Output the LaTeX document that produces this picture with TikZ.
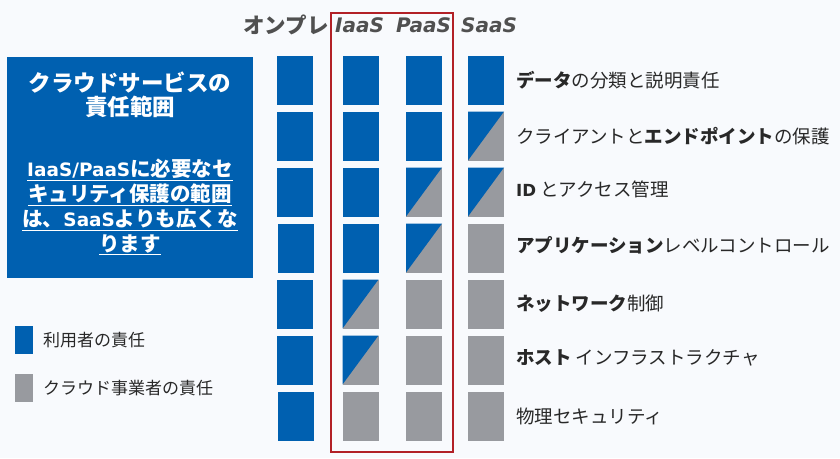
\documentclass[tikz,border=0pt]{standalone}
\usepackage{fontspec}
\setmainfont{Noto Sans CJK JP}
\newfontfamily\latinfont{DejaVu Sans}[Scale=0.9]
\newfontfamily\headfont{DejaVu Sans}[Scale=0.93]

\definecolor{userblue}{RGB}{0,96,176}
\definecolor{cloudgray}{RGB}{152,154,159}
\definecolor{framered}{RGB}{178,32,38}
\definecolor{headgray}{RGB}{80,80,80}
\definecolor{labeltext}{RGB}{40,40,40}
\definecolor{pagebg}{RGB}{248,250,253}

\tikzset{
  cell/.style={minimum width=36pt, minimum height=49pt, inner sep=0pt, outer sep=0pt},
  user/.style={cell, fill=userblue},
  cloud/.style={cell, fill=cloudgray},
  colhead/.style={inner sep=0pt, anchor=west, text=headgray, font=\fontsize{21.5}{24}\selectfont\bfseries},
  rowlabel/.style={anchor=west, inner sep=0pt, text=labeltext, font=\fontsize{18.5}{20}\selectfont},
  legendkey/.style={minimum width=18pt, minimum height=28pt, inner sep=0pt},
  legendtext/.style={anchor=west, inner sep=0pt, text=labeltext, font=\fontsize{17}{19}\selectfont},
}
% blue upper-left half of a shared cell
\newcommand{\halfblue}[1]{\fill[userblue] (#1.north west) -- (#1.north east) -- (#1.south west) -- cycle;}

\begin{document}
\begin{tikzpicture}[x=1pt,y=-1pt]
  \useasboundingbox (0,0) rectangle (840,458);
  \fill[pagebg] (0,0) rectangle (840,458);

  % summary box
  \node[fill=userblue, minimum width=246pt, minimum height=221pt, inner sep=0pt] (box) at (130,167.5) {};
  \node[text=white, align=center, inner sep=0pt, font=\fontsize{22.5}{24}\selectfont\bfseries] (boxtitle) at (130,95)
    {クラウドサービスの\\責任範囲};
  \node[text=white, align=center, inner sep=0pt, font=\fontsize{20.5}{25}\selectfont\bfseries] (boxbody) at (130,207)
    {\underline{{\latinfont\bfseries IaaS/PaaS}に必要なセ}\\
     \underline{キュリティ保護の範囲}\\
     \underline{は、{\latinfont\bfseries SaaS}よりも広くな}\\
     \underline{ります}};

  % legend
  \node[legendkey, fill=userblue] (keyuser) at (24,340) {};
  \node[legendkey, fill=cloudgray] (keycloud) at (24,388) {};
  \node[legendtext] (txtuser) at (43,340) {利用者の責任};
  \node[legendtext] (txtcloud) at (43,388) {クラウド事業者の責任};

  % column headers
  \node[colhead, anchor=east] (honprem) at (329,25) {オンプレ};
  \node[colhead] (hiaas) at (335,25) {\headfont\bfseries\itshape IaaS};
  \node[colhead] (hpaas) at (396,25) {\headfont\bfseries\itshape PaaS};
  \node[colhead] (hsaas) at (461,25) {\headfont\bfseries\itshape SaaS};

  % on-premises
  \path
    (295,80) node[user] (o1) {}
    (295,136) node[user] (o2) {}
    (295,192) node[user] (o3) {}
    (296,248) node[user] (o4) {}
    (295,304) node[user] (o5) {}
    (295,360) node[user] (o6) {}
    (296,416) node[user] (o7) {};
  % IaaS
  \path
    (360.5,80) node[user] (i1) {}
    (360.5,136) node[user] (i2) {}
    (360.5,192) node[user] (i3) {}
    (360.5,248) node[user] (i4) {}
    (360.5,304) node[cloud] (i5) {}
    (360.5,360) node[cloud] (i6) {}
    (360.5,416) node[cloud] (i7) {};
  % PaaS
  \path
    (424,80) node[user] (p1) {}
    (424,136) node[user] (p2) {}
    (424,192) node[cloud] (p3) {}
    (424,248) node[cloud] (p4) {}
    (424,304) node[cloud] (p5) {}
    (424,360) node[cloud] (p6) {}
    (424,416) node[cloud] (p7) {};
  % SaaS
  \path
    (486,80) node[user] (s1) {}
    (486,136) node[cloud] (s2) {}
    (486,192) node[cloud] (s3) {}
    (486,248) node[cloud] (s4) {}
    (486,304) node[cloud] (s5) {}
    (486,360) node[cloud] (s6) {}
    (486,416) node[cloud] (s7) {};
  \halfblue{i5}
  \halfblue{i6}
  \halfblue{p3}
  \halfblue{p4}
  \halfblue{s2}
  \halfblue{s3}

  % IaaS / PaaS frame
  \draw[framered, line width=2.8pt] (331,13) rectangle (453,452);

  % row labels
  \node[rowlabel] (l1) at (516,80) {\textbf{データ}の分類と説明責任};
  \node[rowlabel] (l2) at (516,136) {クライアントと\textbf{エンドポイント}の保護};
  \node[rowlabel] (l3) at (516,189) {{\latinfont\bfseries ID} とアクセス管理};
  \node[rowlabel] (l4) at (516,245) {\textbf{アプリケーション}レベルコントロール};
  \node[rowlabel] (l5) at (516,304) {\textbf{ネットワーク}制御};
  \node[rowlabel] (l6) at (516,358) {\textbf{ホスト} インフラストラクチャ};
  \node[rowlabel] (l7) at (516,416) {物理セキュリティ};
\end{tikzpicture}
\end{document}
